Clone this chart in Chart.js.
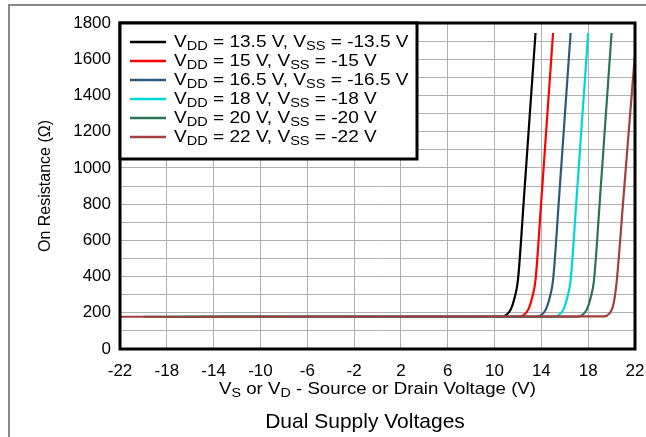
<!DOCTYPE html>
<html>
<head>
<meta charset="utf-8">
<script src="https://cdn.jsdelivr.net/npm/chart.js@4.4.1/dist/chart.umd.min.js"></script>
<style>
  html, body { margin: 0; padding: 0; background: #fff; }
  #wrap { width: 646px; height: 437px; position: relative; }
</style>
</head>
<body>
<div id="wrap"><canvas id="ronChart"></canvas></div>
<script>
// Data
const supplyVolts = ['13.5', '15', '16.5', '18', '20', '22'];
const xTicks = [-22, -18, -14, -10, -6, -2, 2, 6, 10, 14, 18, 22];

const v135 = [-13.5, 10.6, 11.0, 11.4, 11.7, 12.0, 12.5, 13.0, 13.5];
const r135 = [178, 178, 188, 220, 280, 381, 823, 1285, 1745];
const v15 = [-15, 12.1, 12.5, 12.9, 13.2, 13.5, 14.0, 14.5, 15.0];
const r15 = [178, 178, 188, 220, 280, 381, 823, 1285, 1745];
const v165 = [-16.5, 13.6, 14.0, 14.4, 14.7, 15.0, 15.5, 16.0, 16.5];
const r165 = [178, 178, 188, 220, 280, 381, 823, 1285, 1745];
const v18 = [-18, 15.1, 15.5, 15.9, 16.2, 16.5, 17.0, 17.5, 18.0];
const r18 = [178, 178, 188, 220, 280, 381, 823, 1285, 1745];
const v20 = [-20, 17.1, 17.5, 17.9, 18.2, 18.5, 19.0, 19.5, 20.0];
const r20 = [178, 178, 188, 220, 280, 381, 823, 1285, 1745];
const v22 = [-22, 19.4, 19.8, 20.1, 20.3, 20.45, 21.0, 21.5, 22.0];
const r22 = [178, 180, 195, 232, 300, 381, 823, 1230, 1630];

const lineColors = ['#000000', '#ff0000', '#2b5b78', '#00d6d6', '#2e7352', '#a33e3e'];
const FONT = "'Liberation Sans', Arial, sans-serif";

function toPoints(xs, ys) {
  return xs.map((x, i) => ({ x: x, y: ys[i] }));
}

const seriesX = [v135, v15, v165, v18, v20, v22];
const seriesY = [r135, r15, r165, r18, r20, r22];

// text pieces with subscripts, alphabetic baseline; stretch widens horizontally
function drawRich(ctx, parts, x, y, size, subSize, subDrop, stretch, measureOnly) {
  let w = 0;
  parts.forEach(p => {
    ctx.font = (p[1] ? subSize : size) + 'px ' + FONT;
    w += ctx.measureText(p[0]).width;
  });
  if (measureOnly) return w * stretch;
  ctx.save();
  ctx.translate(x, y);
  ctx.scale(stretch, 1);
  let cx = 0;
  parts.forEach(p => {
    ctx.font = (p[1] ? subSize : size) + 'px ' + FONT;
    ctx.fillText(p[0], cx, p[1] ? subDrop : 0);
    cx += ctx.measureText(p[0]).width;
  });
  ctx.restore();
  return w * stretch;
}

const decorPlugin = {
  id: 'decor',
  beforeDraw(chart) {
    const ctx = chart.ctx;
    ctx.save();
    // outer gray frame (runs off the right/bottom edges)
    ctx.strokeStyle = '#888888';
    ctx.lineWidth = 2;
    ctx.beginPath();
    ctx.moveTo(9, 437);
    ctx.lineTo(9, 5);
    ctx.lineTo(646, 5);
    ctx.stroke();
    ctx.restore();
  },
  afterDatasetsDraw(chart) {
    const ctx = chart.ctx;
    const a = chart.chartArea;
    ctx.save();
    // plot border
    ctx.strokeStyle = '#000';
    ctx.lineWidth = 3;
    ctx.strokeRect(a.left, a.top, a.right - a.left, a.bottom - a.top);

    // legend box
    const lx = a.left, ly = a.top, lw = 297, lh = 136;
    ctx.fillStyle = '#fff';
    ctx.fillRect(lx, ly, lw, lh);
    ctx.strokeRect(lx, ly, lw, lh);
    ctx.textBaseline = 'alphabetic';
    supplyVolts.forEach((v, i) => {
      const y = ly + 19 + i * 19;
      ctx.strokeStyle = lineColors[i];
      ctx.lineWidth = 2.5;
      ctx.beginPath();
      ctx.moveTo(lx + 10, y);
      ctx.lineTo(lx + 46, y);
      ctx.stroke();
      ctx.fillStyle = '#000';
      drawRich(ctx, [['V', 0], ['DD', 1], [' = ' + v + ' V, V', 0], ['SS', 1], [' = -' + v + ' V', 0]],
        lx + 54, y + 5, 17, 13, 3, 1.12);
    });

    // x axis title with subscripts
    ctx.fillStyle = '#000';
    const xParts = [['V', 0], ['S', 1], [' or V', 0], ['D', 1], [' - Source or Drain Voltage (V)', 0]];
    const w = drawRich(ctx, xParts, 0, 0, 17, 13, 3, 1.1, true);
    drawRich(ctx, xParts, (a.left + a.right) / 2 - w / 2, 394, 17, 13, 3, 1.1);

    // caption
    ctx.font = '21px ' + FONT;
    ctx.textAlign = 'center';
    ctx.fillText('Dual Supply Voltages', 365, 428);
    ctx.restore();
  }
};

const ctx = document.getElementById('ronChart');
new Chart(ctx.getContext('2d'), {
  type: 'line',
  data: {
    datasets: supplyVolts.map((v, i) => ({
      label: 'VDD = ' + v + ' V',
      data: toPoints(seriesX[i], seriesY[i]),
      borderColor: lineColors[i],
      backgroundColor: lineColors[i],
      borderWidth: 2.2,
      pointRadius: 0,
      cubicInterpolationMode: 'monotone',
      order: supplyVolts.length - i,
      fill: false
    }))
  },
  options: {
    responsive: true,
    maintainAspectRatio: false,
    animation: false,
    layout: { padding: { left: 0, right: 11, top: 23, bottom: 0 } },
    plugins: {
      legend: { display: false },
      tooltip: { enabled: false }
    },
    scales: {
      x: {
        type: 'linear',
        min: -22,
        max: 22,
        afterBuildTicks: (scale) => { scale.ticks = xTicks.map(v => ({ value: v })); },
        afterFit: (scale) => { scale.height = 88; scale.paddingLeft = 0; scale.paddingRight = 0; },
        grid: { color: '#b0b0b0', lineWidth: 1, drawTicks: false },
        border: { display: false },
        ticks: { color: '#000', font: { family: FONT, size: 17 }, padding: 12, maxRotation: 0, autoSkip: false }
      },
      y: {
        min: 0,
        max: 1800,
        afterFit: (scale) => { scale.width = 120; scale.paddingTop = 0; scale.paddingBottom = 0; },
        grid: { color: '#b0b0b0', lineWidth: 1, drawTicks: false },
        border: { display: false },
        ticks: {
          stepSize: 100,
          autoSkip: false,
          color: '#000',
          font: { family: FONT, size: 17 },
          padding: 9,
          callback: (v) => (v % 200 === 0 ? v : '')
        },
        title: {
          display: true,
          text: 'On Resistance (\u03A9)',
          color: '#000',
          font: { family: FONT, size: 16 },
          padding: { top: 36, bottom: 0 }
        }
      }
    }
  },
  plugins: [decorPlugin]
});
</script>
</body>
</html>
